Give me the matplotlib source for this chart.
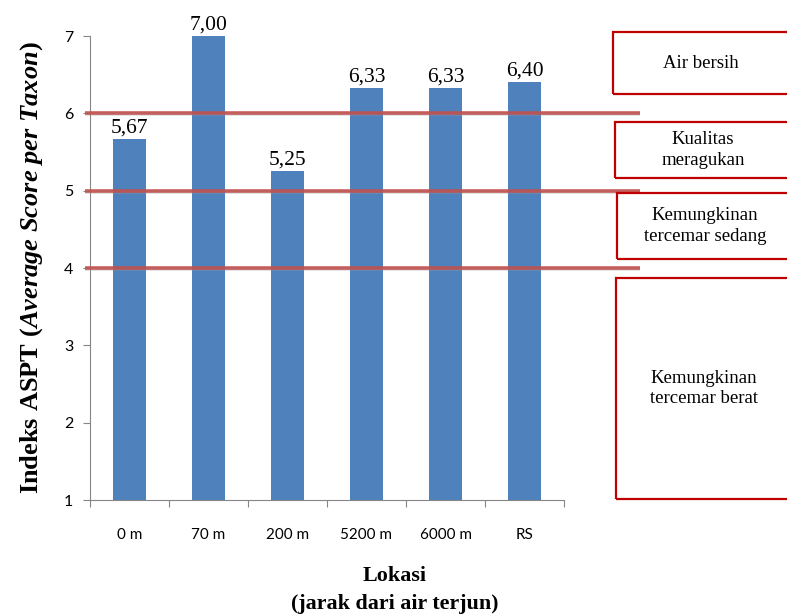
import matplotlib.pyplot as plt
from matplotlib.patches import Rectangle

# ASPT index per sampling location
lokasi = ['0 m', '70 m', '200 m', '5200 m', '6000 m', 'RS']
aspt = [5.67, 7.00, 5.25, 6.33, 6.33, 6.40]

# water quality class boundaries
batas = [6, 5, 4]
kelas = ['Air bersih', 'Kualitas\nmeragukan', 'Kemungkinan\ntercemar sedang',
         'Kemungkinan\ntercemar berat']

plt.rcParams['mathtext.fontset'] = 'custom'
plt.rcParams['mathtext.rm'] = 'Liberation Serif:bold'
plt.rcParams['mathtext.it'] = 'Liberation Serif:bold:italic'
plt.rcParams['mathtext.bf'] = 'Liberation Serif:bold'

W, H = 787, 616
fig = plt.figure(figsize=(W / 100, H / 100), dpi=100)
ax = fig.add_axes([90 / W, 116 / H, 474 / W, 464 / H])

x = range(len(lokasi))
ax.bar(x, aspt, width=0.42, bottom=0, color='#4f81bd', zorder=2)
ax.set_xlim(-0.5, len(lokasi) - 0.5)
ax.set_ylim(1, 7)

for xi, v in zip(x, aspt):
    ax.annotate(f'{v:.2f}'.replace('.', ','), (xi, v), xytext=(0, 1),
                textcoords='offset points', ha='center', va='bottom',
                family='Liberation Serif', fontsize=15.5, zorder=4)

# class boundary lines, running out past the plot area
for b in batas:
    ax.plot([-0.56, 6.46], [b - 0.014, b - 0.014], color='#9a9a9a', lw=2.6,
            alpha=0.35, clip_on=False, zorder=3, solid_capstyle='butt')
    ax.plot([-0.56, 6.46], [b, b], color='#c0504d', lw=2.6, alpha=0.9,
            clip_on=False, zorder=3, solid_capstyle='butt')

for s in ['top', 'right']:
    ax.spines[s].set_visible(False)
ax.spines['left'].set_color('#868686')
ax.spines['bottom'].set_color('#868686')

ax.set_yticks(range(1, 8))
ax.set_xticks([i - 0.5 for i in range(len(lokasi) + 1)], minor=False)
ax.set_xticklabels([''] * (len(lokasi) + 1))
ax.set_xticks(list(x), minor=True)
ax.set_xticklabels(lokasi, minor=True, family='Lato', fontsize=11)
ax.tick_params(axis='x', which='minor', length=0, pad=20)
ax.tick_params(axis='x', which='major', length=5, color='#868686')
ax.tick_params(axis='y', length=5, color='#868686', pad=7)
for t in ax.get_yticklabels():
    t.set_family('Lato')
    t.set_fontsize(11.5)

ax.set_ylabel(r'$\mathrm{Indeks\ ASPT\ (}\mathit{Average\ Score\ per\ Taxon}\mathrm{)}$',
              fontsize=19, labelpad=14)
fig.text(395 / W, 1 - 576 / H, 'Lokasi', ha='center', va='center',
         family='Liberation Serif', weight='bold', fontsize=15.8)
fig.text(395 / W, 1 - 604 / H, '(jarak dari air terjun)', ha='center', va='center',
         family='Liberation Serif', weight='bold', fontsize=15.8)

# class boxes on the right
kotak = [(613, 32, 94), (615, 122, 178), (617, 193, 259), (616, 278, 499)]
for (x0, y0, y1), teks in zip(kotak, kelas):
    fig.patches.append(Rectangle((x0 / W, 1 - y1 / H), (W + 20 - x0) / W, (y1 - y0) / H,
                                 transform=fig.transFigure, fill=False,
                                 edgecolor='#c00000', lw=1.6))
    fig.text((x0 + 88) / W, 1 - (y0 + y1) / 2 / H, teks, ha='center', va='center',
             family='Liberation Serif', fontsize=13.5, linespacing=1.3)

fig.savefig('out.png', dpi=100)
